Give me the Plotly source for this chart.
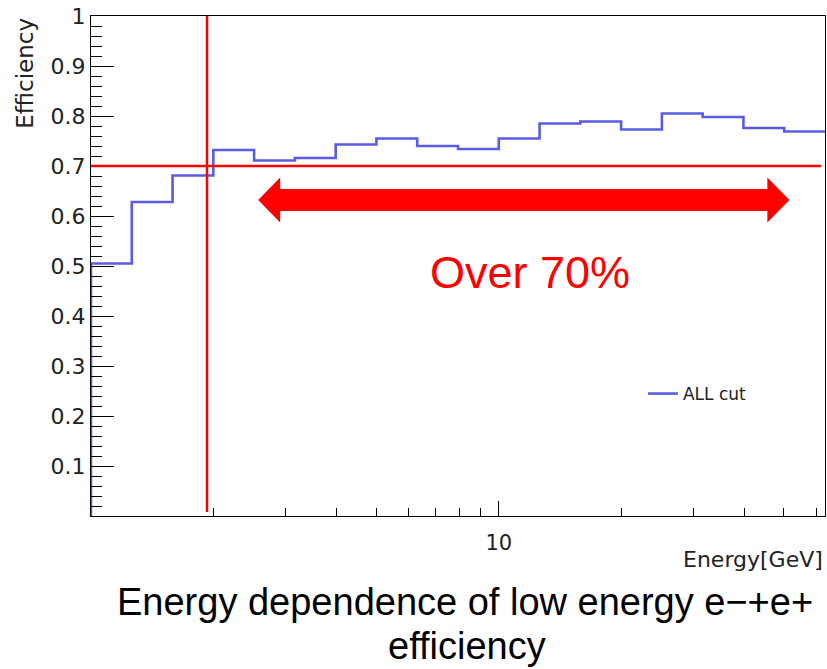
import math
import plotly.graph_objects as go

# Efficiency per energy bin (18 log-spaced bins, 0.1 decade each, 1 GeV .. 10^1.8 GeV)
bin_log_edges = [k * 0.1 for k in range(19)]
efficiency = [0.505, 0.628, 0.681, 0.732, 0.711, 0.716, 0.743, 0.755, 0.740,
              0.734, 0.755, 0.785, 0.789, 0.773, 0.805, 0.798, 0.776, 0.769]

y_tick_vals = [0.1, 0.2, 0.3, 0.4, 0.5, 0.6, 0.7, 0.8, 0.9, 1.0]
y_tick_text = ["0.1", "0.2", "0.3", "0.4", "0.5", "0.6", "0.7", "0.8", "0.9", "1"]
x_major_ticks = [10]
x_minor_ticks = [2, 3, 4, 5, 6, 7, 8, 9, 20, 30, 40, 50, 60]

threshold = 0.70          # efficiency requirement
energy_cut = 1.925        # GeV, vertical marker
line_end_energy = 61.7    # GeV, end of threshold line
arrow_from, arrow_to = 2.57, 51.6   # GeV span of the "over 70%" arrow
arrow_level = 0.632

caption_lines = ["Energy dependence of low energy e\u2212+e+", "efficiency"]

LOG_MAX = 1.8
BLUE = "#5b5be3"
RED = "#ff0000"

edges = [10 ** e for e in bin_log_edges]
# step outline: start from zero at the left edge like a ROOT histogram
hx = [edges[0]] + edges
hy = [0.0] + efficiency + [efficiency[-1]]

fig = go.Figure()
fig.add_trace(go.Scatter(
    x=hx, y=hy, mode="lines", line=dict(color=BLUE, width=2.6, shape="hv"),
    name="ALL cut", showlegend=True,
))


def px(e):
    """energy -> paper x fraction on the log axis"""
    return math.log10(e) / LOG_MAX


shapes = [
    dict(type="line", xref="paper", yref="y", x0=0, x1=px(line_end_energy),
         y0=threshold, y1=threshold, line=dict(color=RED, width=2.5)),
    dict(type="line", xref="paper", yref="y", x0=px(energy_cut), x1=px(energy_cut),
         y0=0.008, y1=1.0, line=dict(color=RED, width=2.5)),
]

# double-headed block arrow
xl, xr = px(arrow_from), px(arrow_to)
head_len = 0.030
half_shaft, half_head = 0.022, 0.045
pts = [
    (xl, arrow_level),
    (xl + head_len, arrow_level + half_head),
    (xl + head_len, arrow_level + half_shaft),
    (xr - head_len, arrow_level + half_shaft),
    (xr - head_len, arrow_level + half_head),
    (xr, arrow_level),
    (xr - head_len, arrow_level - half_head),
    (xr - head_len, arrow_level - half_shaft),
    (xl + head_len, arrow_level - half_shaft),
    (xl + head_len, arrow_level - half_head),
]
path = "M " + " L ".join(f"{x:.5f},{y:.5f}" for x, y in pts) + " Z"
shapes.append(dict(type="path", xref="paper", yref="y", path=path,
                   fillcolor=RED, line=dict(width=0)))

annotations = [
    dict(text="Over 70%", xref="paper", yref="y", x=0.598, y=0.488,
         showarrow=False, font=dict(family="Liberation Sans", size=45, color=RED)),
    dict(text="Efficiency", xref="paper", yref="paper", x=-0.091, y=1.0,
         xanchor="center", yanchor="top", textangle=-90, showarrow=False,
         font=dict(family="DejaVu Sans", size=23, color="#222")),
    dict(text="Energy[GeV]", xref="paper", yref="paper", x=1.0, y=-0.058,
         xanchor="right", yanchor="top", showarrow=False,
         font=dict(family="DejaVu Sans", size=22, color="#222")),
]
# two-line caption under the frame
for text, xc, yc in zip(caption_lines, [0.5095, 0.512], [-0.172, -0.26]):
    annotations.append(dict(
        text=text, xref="paper", yref="paper", x=xc, y=yc,
        xanchor="center", yanchor="middle", showarrow=False,
        font=dict(family="Liberation Sans", size=38, color="#000")))

fig.update_layout(
    width=827, height=669,
    margin=dict(l=91, r=2, t=16, b=153),
    paper_bgcolor="white", plot_bgcolor="white",
    shapes=shapes, annotations=annotations,
    legend=dict(x=0.752, y=0.244, xanchor="left", yanchor="middle",
                bgcolor="rgba(0,0,0,0)", borderwidth=0,
                font=dict(family="DejaVu Sans", size=17, color="#222")),
    xaxis=dict(
        type="log", range=[0, LOG_MAX], showgrid=False, zeroline=False,
        showline=True, linecolor="black", linewidth=1, mirror=True,
        ticks="inside", ticklen=15, tickwidth=1, tickcolor="black",
        tickvals=x_major_ticks, ticktext=[str(v) for v in x_major_ticks],
        ticklabelstandoff=8,
        tickfont=dict(family="DejaVu Sans", size=21, color="#222"),
        minor=dict(ticks="inside", ticklen=8, tickwidth=1, tickcolor="black",
                   tickvals=x_minor_ticks, showgrid=False),
    ),
    yaxis=dict(
        range=[0, 1], showgrid=False, zeroline=False,
        showline=True, linecolor="black", linewidth=1, mirror=True,
        ticks="inside", ticklen=23, tickwidth=1, tickcolor="black",
        tickvals=y_tick_vals, ticktext=y_tick_text,
        tickfont=dict(family="DejaVu Sans", size=22, color="#222"),
        minor=dict(ticks="inside", ticklen=11, tickwidth=1, tickcolor="black",
                   dtick=0.02, showgrid=False),
    ),
)

fig.write_html("out.html")
